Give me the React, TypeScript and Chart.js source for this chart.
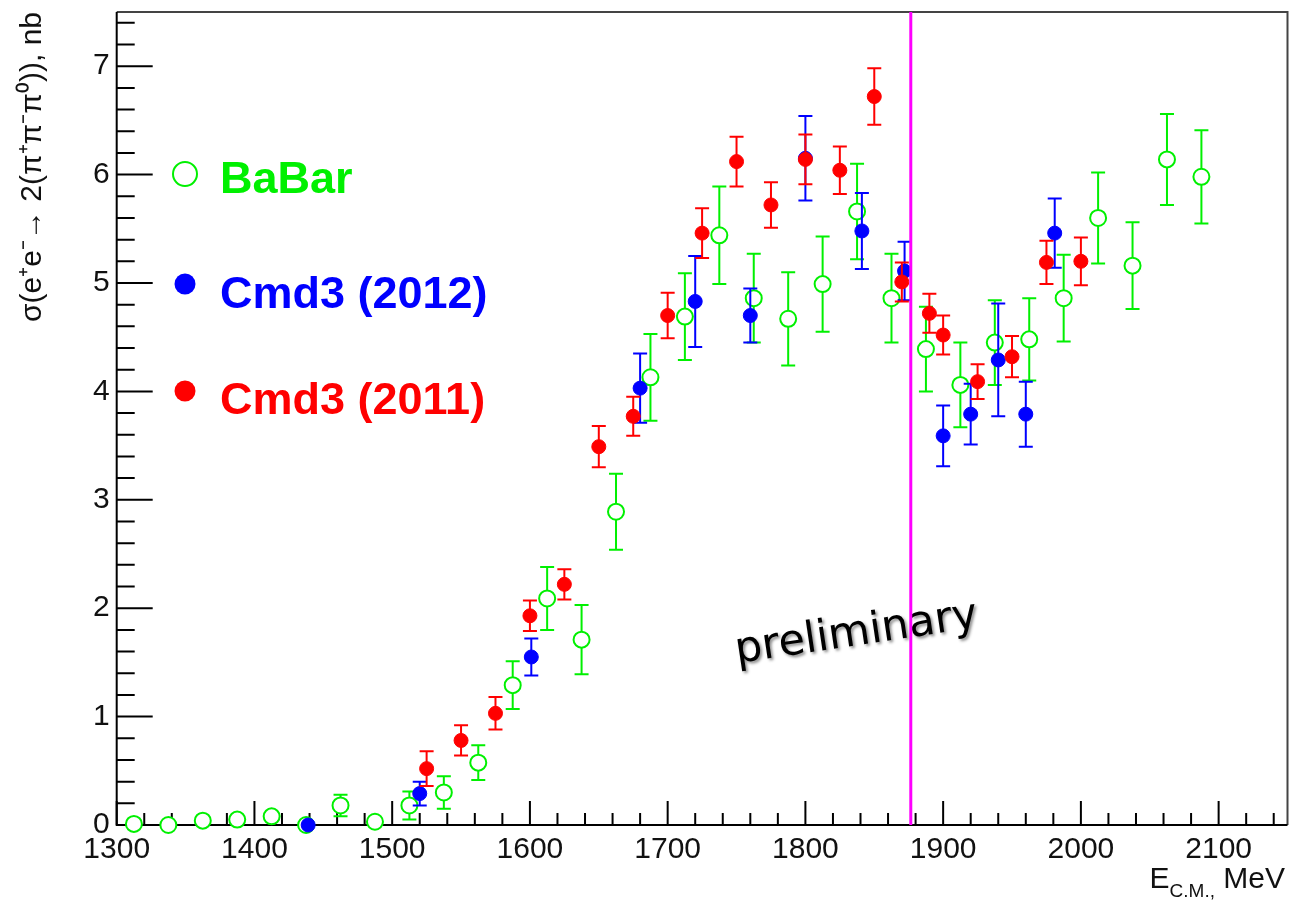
import React, { useEffect, useRef } from 'react';
import { Chart, registerables } from 'chart.js';

Chart.register(...registerables);

// ---------- data ----------
const babarX = [1312.5, 1337.5, 1362.5, 1387.5, 1412.5, 1437.5, 1462.5, 1487.5, 1512.5, 1537.5, 1562.5, 1587.5, 1612.5, 1637.5, 1662.5, 1687.5, 1712.5, 1737.5, 1762.5, 1787.5, 1812.5, 1837.5, 1862.5, 1887.5, 1912.5, 1937.5, 1962.5, 1987.5, 2012.5, 2037.5, 2062.5, 2087.5];
const babarY = [0.01, 0.0, 0.04, 0.05, 0.08, 0.0, 0.18, 0.03, 0.18, 0.3, 0.575, 1.29, 2.09, 1.71, 2.89, 4.13, 4.69, 5.44, 4.86, 4.67, 4.99, 5.66, 4.86, 4.39, 4.06, 4.45, 4.48, 4.86, 5.6, 5.16, 6.14, 5.98];
const babarErr = [0.02, 0.02, 0.03, 0.03, 0.04, 0.03, 0.1, 0.05, 0.13, 0.15, 0.16, 0.22, 0.29, 0.32, 0.35, 0.4, 0.4, 0.45, 0.41, 0.43, 0.44, 0.44, 0.41, 0.39, 0.39, 0.39, 0.38, 0.4, 0.42, 0.4, 0.42, 0.43];

const cmd2012X = [1439, 1520, 1601, 1680, 1720, 1760, 1800, 1841, 1872, 1900, 1920, 1940, 1960, 1981];
const cmd2012Y = [0.0, 0.29, 1.55, 4.03, 4.83, 4.7, 6.15, 5.48, 5.11, 3.59, 3.79, 4.29, 3.79, 5.46];
const cmd2012Err = [0.05, 0.11, 0.17, 0.32, 0.42, 0.25, 0.39, 0.35, 0.27, 0.28, 0.28, 0.52, 0.3, 0.32];

const cmd2011X = [1525, 1550, 1575, 1600, 1625, 1650, 1675, 1700, 1725, 1750, 1775, 1800, 1825, 1850, 1870, 1890, 1900, 1925, 1950, 1975, 2000];
const cmd2011Y = [0.52, 0.78, 1.03, 1.93, 2.22, 3.49, 3.77, 4.7, 5.46, 6.12, 5.72, 6.14, 6.04, 6.72, 5.01, 4.72, 4.52, 4.09, 4.32, 5.19, 5.2];
const cmd2011Err = [0.16, 0.14, 0.15, 0.14, 0.14, 0.19, 0.18, 0.21, 0.23, 0.23, 0.21, 0.23, 0.22, 0.26, 0.18, 0.18, 0.18, 0.16, 0.19, 0.2, 0.22];

const xTickValues = [1300, 1400, 1500, 1600, 1700, 1800, 1900, 2000, 2100];
const yTickValues = [0, 1, 2, 3, 4, 5, 6, 7];
const thresholdX = 1876.5;

const seriesLabels = ['Cmd3 (2011)', 'Cmd3 (2012)', 'BaBar'];
const yTitle = 'σ(e⁺e⁻→ 2(π⁺π⁻π⁰)), nb';
const watermark = 'preliminary';

// ---------- styles ----------
const GREEN = '#00f000';
const BLUE = '#0000ff';
const RED = '#ff0000';
const MAGENTA = '#ff00ff';
const FONT = '"Liberation Sans", Arial, Helvetica, sans-serif';

const seriesErrors = [cmd2011Err, cmd2012Err, babarErr];
const seriesColors = [RED, BLUE, GREEN];

const toPoints = (xs: number[], ys: number[]) => xs.map((x, i) => ({ x, y: ys[i] }));

const errorBarPlugin = {
  id: 'errorBars',
  beforeDatasetDraw(chart: any, args: any) {
    const idx = args.index;
    const errs = seriesErrors[idx];
    const color = seriesColors[idx];
    const ds = chart.data.datasets[idx];
    const xs = chart.scales.x;
    const ys = chart.scales.y;
    const ctx = chart.ctx;
    const r = ds.pointRadius + 1;
    ctx.save();
    ctx.strokeStyle = color;
    ctx.lineWidth = 2;
    ds.data.forEach((p: any, i: number) => {
      const px = xs.getPixelForValue(p.x);
      const py = ys.getPixelForValue(p.y);
      const pTop = ys.getPixelForValue(p.y + errs[i]);
      const pBot = ys.getPixelForValue(p.y - errs[i]);
      if (py - pTop <= r) return;
      ctx.beginPath();
      ctx.moveTo(px, pTop);
      ctx.lineTo(px, pBot);
      ctx.moveTo(px - 7, pTop);
      ctx.lineTo(px + 7, pTop);
      ctx.moveTo(px - 7, pBot);
      ctx.lineTo(px + 7, pBot);
      ctx.stroke();
    });
    ctx.restore();
  },
};

const framePlugin = {
  id: 'frameTicks',
  beforeDatasetsDraw(chart: any) {
    const { ctx, chartArea } = chart;
    const { left, right, top, bottom } = chartArea;
    const xs = chart.scales.x;
    const ys = chart.scales.y;
    ctx.save();
    ctx.strokeStyle = '#444';
    ctx.lineWidth = 2;
    ctx.beginPath();
    ctx.moveTo(left, top);
    ctx.lineTo(right, top);
    ctx.lineTo(right, bottom);
    ctx.stroke();
    ctx.strokeStyle = '#000';
    ctx.beginPath();
    ctx.moveTo(left, top);
    ctx.lineTo(left, bottom);
    ctx.lineTo(right, bottom);
    ctx.stroke();
    ctx.beginPath();
    for (let v = xs.min; v <= xs.max + 0.001; v += 20) {
      const px = xs.getPixelForValue(v);
      const major = Math.abs((v - 1300) % 100) < 0.001;
      ctx.moveTo(px, bottom);
      ctx.lineTo(px, bottom - (major ? 24 : 12));
    }
    for (let k = 0; k <= 37; k++) {
      const v = k * 0.2;
      const py = ys.getPixelForValue(v);
      const major = k % 5 === 0;
      ctx.moveTo(left, py);
      ctx.lineTo(left + (major ? 36 : 18), py);
    }
    ctx.stroke();
    ctx.restore();
  },
};

const overlayPlugin = {
  id: 'overlay',
  afterDatasetsDraw(chart: any) {
    const { ctx, chartArea } = chart;
    const { top, bottom } = chartArea;
    const xs = chart.scales.x;
    ctx.save();
    // watermark
    ctx.save();
    ctx.translate(858, 645);
    ctx.rotate((-8.5 * Math.PI) / 180);
    ctx.font = '43px "DejaVu Sans", sans-serif';
    ctx.textAlign = 'center';
    ctx.textBaseline = 'alphabetic';
    ctx.shadowColor = 'rgba(0,0,0,0.45)';
    ctx.shadowOffsetX = 2;
    ctx.shadowOffsetY = 2;
    ctx.shadowBlur = 3;
    ctx.fillStyle = '#000';
    ctx.fillText(watermark, 0, 0);
    ctx.restore();

    // threshold line
    const lx = xs.getPixelForValue(thresholdX);
    ctx.strokeStyle = MAGENTA;
    ctx.lineWidth = 3;
    ctx.beginPath();
    ctx.moveTo(lx, top);
    ctx.lineTo(lx, bottom);
    ctx.stroke();

    // x title E_{C.M.}, MeV
    ctx.fillStyle = '#111';
    ctx.textBaseline = 'alphabetic';
    ctx.textAlign = 'left';
    const xEnd = 1285;
    ctx.font = `30px ${FONT}`;
    const wMev = ctx.measureText(' MeV').width;
    const wE = ctx.measureText('E').width;
    ctx.font = `19px ${FONT}`;
    const sub = 'C.M.,';
    const wSub = ctx.measureText(sub).width;
    const x0 = xEnd - wMev - wSub - wE;
    ctx.font = `30px ${FONT}`;
    ctx.fillText('E', x0, 888);
    ctx.font = `19px ${FONT}`;
    ctx.fillText(sub, x0 + wE, 897);
    ctx.font = `30px ${FONT}`;
    ctx.fillText(' MeV', x0 + wE + wSub, 888);

    // legend
    const entries = [
      { label: seriesLabels[2], color: GREEN, open: true, y: 174, base: 193 },
      { label: seriesLabels[1], color: BLUE, open: false, y: 284, base: 308 },
      { label: seriesLabels[0], color: RED, open: false, y: 391, base: 414 },
    ];
    entries.forEach((e) => {
      ctx.beginPath();
      if (e.open) {
        ctx.arc(185, e.y, 12, 0, Math.PI * 2);
        ctx.fillStyle = '#fff';
        ctx.fill();
        ctx.lineWidth = 2;
        ctx.strokeStyle = e.color;
        ctx.stroke();
      } else {
        ctx.arc(185, e.y, 10.5, 0, Math.PI * 2);
        ctx.fillStyle = e.color;
        ctx.fill();
      }
      ctx.fillStyle = e.color;
      ctx.font = `bold 45px ${FONT}`;
      ctx.textAlign = 'left';
      ctx.fillText(e.label, 220, e.base);
    });
    ctx.restore();
  },
};

export default function App() {
  const ref = useRef<HTMLCanvasElement>(null);
  useEffect(() => {
    if (!ref.current) return;
    const chart = new Chart(ref.current, {
      type: 'scatter',
      data: {
        datasets: [
          {
            label: seriesLabels[0],
            data: toPoints(cmd2011X, cmd2011Y),
            order: 0,
            pointRadius: 7,
            pointBorderWidth: 1,
            pointBackgroundColor: RED,
            pointBorderColor: RED,
            showLine: false,
            clip: false,
          } as any,
          {
            label: seriesLabels[1],
            data: toPoints(cmd2012X, cmd2012Y),
            order: 1,
            pointRadius: 7,
            pointBorderWidth: 1,
            pointBackgroundColor: BLUE,
            pointBorderColor: BLUE,
            showLine: false,
            clip: false,
          } as any,
          {
            label: seriesLabels[2],
            data: toPoints(babarX, babarY),
            order: 2,
            pointRadius: 8,
            pointBorderWidth: 2,
            pointBackgroundColor: '#ffffff',
            pointBorderColor: GREEN,
            showLine: false,
            clip: false,
          } as any,
        ],
      },
      options: {
        animation: false,
        responsive: false,
        events: [],
        layout: { autoPadding: false, padding: { top: 12, right: 1.5, left: 0, bottom: 0 } },
        plugins: {
          legend: { display: false },
          tooltip: { enabled: false },
        },
        scales: {
          x: {
            type: 'linear',
            min: 1300,
            max: 2150,
            grid: { display: false, drawTicks: false },
            border: { display: false },
            afterBuildTicks: (s: any) => {
              s.ticks = xTickValues.map((v) => ({ value: v }));
            },
            afterFit: (s: any) => {
              s.height = 78;
              s.paddingLeft = 0;
              s.paddingRight = 0;
            },
            ticks: {
              font: { family: FONT, size: 30 },
              color: '#111',
              padding: 7,
              maxRotation: 0,
              autoSkip: false,
              callback: (v: any) => String(v),
            },
          },
          y: {
            type: 'linear',
            min: 0,
            max: 7.5,
            grid: { display: false, drawTicks: false },
            border: { display: false },
            afterBuildTicks: (s: any) => {
              s.ticks = yTickValues.map((v) => ({ value: v }));
            },
            afterFit: (s: any) => {
              s.width = 116.7;
              s.paddingTop = 0;
              s.paddingBottom = 0;
            },
            ticks: {
              font: { family: FONT, size: 30 },
              color: '#111',
              padding: 7,
              callback: (v: any) => String(v),
            },
            title: {
              display: true,
              text: yTitle,
              align: 'end',
              color: '#111',
              font: { family: FONT, size: 30 },
              padding: { top: 15, bottom: 0 },
            },
          },
        },
      } as any,
      plugins: [framePlugin, errorBarPlugin, overlayPlugin],
    });
    return () => chart.destroy();
  }, []);
  return (
    <div style={{ position: 'absolute', left: 0, top: 0, width: 1289, height: 903, background: '#fff' }}>
      <canvas ref={ref} width={1289} height={903} style={{ display: 'block' }} />
    </div>
  );
}
